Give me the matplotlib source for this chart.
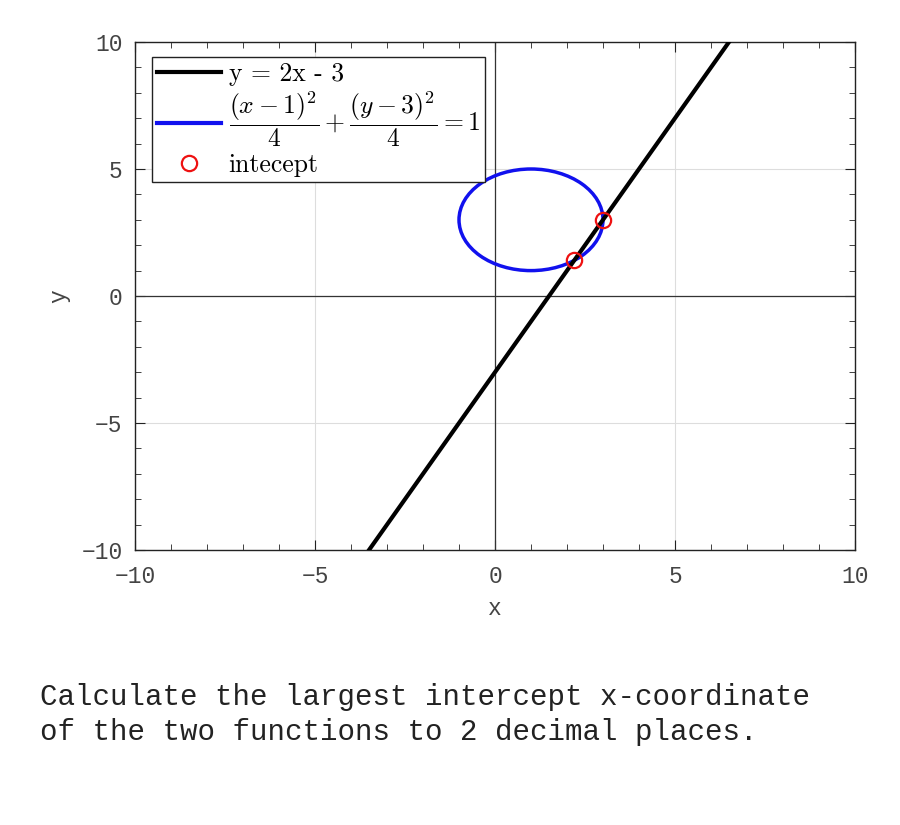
import numpy as np
import matplotlib
matplotlib.use('Agg')
import matplotlib.pyplot as plt
from matplotlib.patches import Ellipse
from matplotlib.lines import Line2D
from matplotlib.ticker import MultipleLocator

plt.rcParams['font.family'] = ['Liberation Mono', 'DejaVu Sans Mono']
plt.rcParams['mathtext.fontset'] = 'cm'
plt.rcParams['axes.unicode_minus'] = False

# line y = 2x - 3, endpoints where it leaves the box
line_x = [-3.5, 6.5]
line_y = [-10, 10]

# circle (x-1)^2/4 + (y-3)^2/4 = 1
circle_center = [1, 3]
circle_size = [4, 4]

# intercept points
int_x = [2.2, 3.0]
int_y = [1.4, 3.0]

ticks = [-10, -5, 0, 5, 10]
tick_labels = ['\u221210', '\u22125', '0', '5', '10']
question = ["Calculate the largest intercept x-coordinate",
            "of the two functions to 2 decimal places."]

fig = plt.figure(figsize=(9, 8.25), dpi=100)
ax = fig.add_axes([0.15, 0.3333, 0.8, 0.6158])

ax.grid(True, color='#dddddd', lw=0.8)
ax.axhline(0, color='#333333', lw=0.9, zorder=2.5)
ax.axvline(0, color='#333333', lw=0.9, zorder=2.5)

ln, = ax.plot(line_x, line_y, color='black', lw=3, zorder=3)
circ = Ellipse(circle_center, circle_size[0], circle_size[1], fill=False,
               edgecolor='#1111ee', lw=2.5, zorder=2.6)
ax.add_patch(circ)
pts, = ax.plot(int_x, int_y, 'o', mfc='none', mec='#ee1111', ms=11, mew=1.6,
               zorder=4)

ax.set_xlim(-10, 10)
ax.set_ylim(-10, 10)
ax.set_xticks(ticks)
ax.set_yticks(ticks)
ax.set_xticklabels(tick_labels)
ax.set_yticklabels(tick_labels)
ax.xaxis.set_minor_locator(MultipleLocator(1))
ax.yaxis.set_minor_locator(MultipleLocator(1))
ax.tick_params(which='both', direction='in', top=True, right=True,
               labelsize=16.5, labelcolor='#444444', color='#222222')
ax.tick_params(which='major', length=7)
ax.tick_params(which='minor', length=4)
ax.tick_params(axis='x', which='major', pad=11)
ax.tick_params(axis='y', which='major', pad=9)
for s in ax.spines.values():
    s.set_color('#222222')
    s.set_linewidth(1.0)

ax.set_xlabel('x', fontsize=16.5, color='#444444', labelpad=6)
ax.set_ylabel('y', fontsize=16.5, color='#444444', labelpad=8)

blue_handle = Line2D([], [], color='#1111ee', lw=3)
leg = ax.legend([ln, blue_handle, pts],
                ['y = 2x - 3',
                 r'$\dfrac{(x-1)^2}{4}+\dfrac{(y-3)^2}{4}=1$',
                 'intecept'],
                loc='upper left', bbox_to_anchor=(0.023, 0.97),
                prop={'family': 'cmr10', 'size': 18.5},
                frameon=True, fancybox=False, framealpha=1,
                edgecolor='#222222', handlelength=2.5, handletextpad=0.3,
                borderpad=0.2, labelspacing=0.15, borderaxespad=0)
leg.get_frame().set_linewidth(1.0)

fig.text(40 / 900, 1 - 705 / 825, question[0], fontsize=21, color='#222222')
fig.text(40 / 900, 1 - 740 / 825, question[1], fontsize=21, color='#222222')

fig.savefig('out.png', dpi=100)
